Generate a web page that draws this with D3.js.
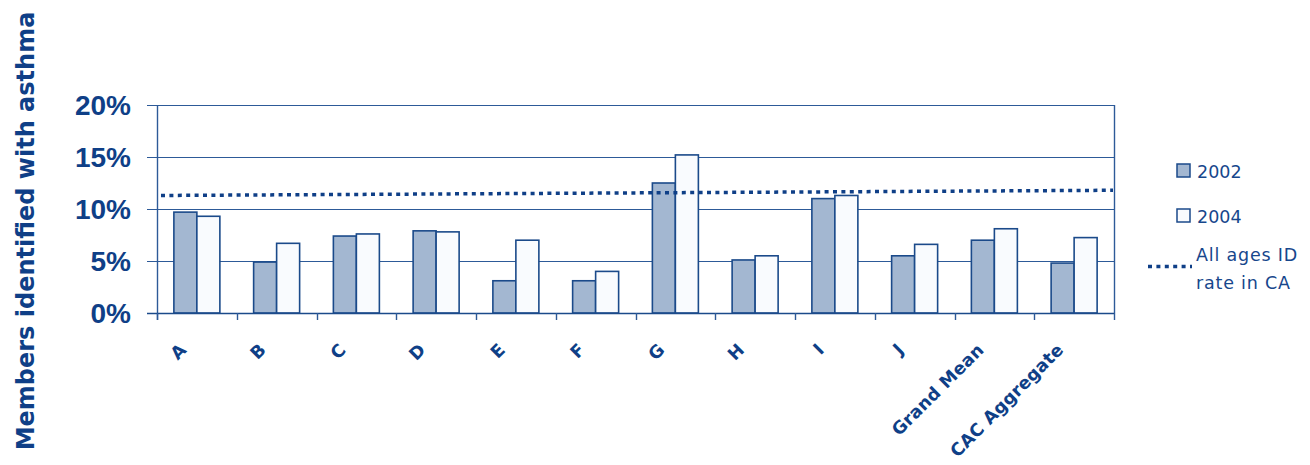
<!DOCTYPE html>
<html>
<head>
<meta charset="utf-8">
<script src="https://cdn.jsdelivr.net/npm/d3@7"></script>
<style>
  html, body { margin: 0; padding: 0; background: #ffffff; }
  svg { display: block; }
</style>
</head>
<body>
<svg id="chart" width="1310" height="465"></svg>
<script>
// ---- Data ----
const categories = ["A", "B", "C", "D", "E", "F", "G", "H", "I", "J", "Grand Mean", "CAC Aggregate"];
const values2002 = [9.7, 4.9, 7.4, 7.9, 3.1, 3.1, 12.5, 5.1, 11.0, 5.5, 7.0, 4.8];
const values2004 = [9.3, 6.7, 7.6, 7.8, 7.0, 4.0, 15.2, 5.5, 11.3, 6.6, 8.1, 7.25];
const caRateStart = 11.3;   // All ages ID rate in CA, left end of dotted line
const caRateEnd = 11.8;     // right end
const yTicks = [0, 5, 10, 15, 20];
const seriesNames = ["2002", "2004"];
const lineLegendLines = ["All ages ID", "rate in CA"];
const yTitle = "Members identified with asthma";

// ---- Styles ----
const navy = "#0F3F87";
const gridColor = "#2D5A98";
const barStroke = "#1B4A8A";
const fill2002 = "#A3B7D1";
const fill2004 = "#F9FBFE";

const svg = d3.select("#chart");
const pLeft = 157, pRight = 1114, pTop = 105, pBottom = 313;

const y = d3.scaleLinear().domain([0, 20]).range([pBottom, pTop]);
const x = d3.scaleBand().domain(categories).range([pLeft, pRight]).paddingInner(0).paddingOuter(0);
const barW = 23;
const xLine = d3.scaleLinear().domain([0, 1]).range([pLeft + 4, pRight - 1]);

// gridlines (extend left as tick marks)
svg.append("g").selectAll("line").data(yTicks).join("line")
  .attr("x1", pLeft - 10).attr("x2", pRight)
  .attr("y1", d => Math.round(y(d)) + 0.5).attr("y2", d => Math.round(y(d)) + 0.5)
  .attr("stroke", gridColor).attr("stroke-width", 1.2);

// y tick labels
svg.append("g").selectAll("text").data(yTicks).join("text")
  .attr("x", 131).attr("y", d => y(d)).attr("dy", "0.36em")
  .attr("text-anchor", "end")
  .attr("font-family", "'Liberation Sans', Arial, sans-serif")
  .attr("font-weight", "bold").attr("font-size", 28)
  .attr("fill", navy)
  .text(d => d + "%");

// bars
const groups = svg.append("g").selectAll("g").data(categories).join("g")
  .attr("transform", d => `translate(${x(d) + (x.bandwidth() - 2 * barW) / 2},0)`);
groups.append("rect")
  .attr("x", 0).attr("width", barW)
  .attr("y", (d, i) => y(values2002[i])).attr("height", (d, i) => y(0) - y(values2002[i]))
  .attr("fill", fill2002).attr("stroke", barStroke).attr("stroke-width", 1.6);
groups.append("rect")
  .attr("x", barW).attr("width", barW)
  .attr("y", (d, i) => y(values2004[i])).attr("height", (d, i) => y(0) - y(values2004[i]))
  .attr("fill", fill2004).attr("stroke", barStroke).attr("stroke-width", 1.6);

// axes frame: left axis, right border
svg.append("line").attr("x1", pLeft + 0.5).attr("x2", pLeft + 0.5).attr("y1", pTop).attr("y2", pBottom + 7)
  .attr("stroke", gridColor).attr("stroke-width", 1.4);
svg.append("line").attr("x1", pRight + 0.5).attr("x2", pRight + 0.5).attr("y1", pTop).attr("y2", pBottom + 7)
  .attr("stroke", gridColor).attr("stroke-width", 1.4);
svg.append("line").attr("x1", pLeft - 10).attr("x2", pRight).attr("y1", Math.round(y(0)) + 0.5).attr("y2", Math.round(y(0)) + 0.5)
  .attr("stroke", barStroke).attr("stroke-width", 1.6);

// x ticks at category boundaries
svg.append("g").selectAll("line").data(categories).join("line")
  .attr("x1", d => Math.round(x(d)) + 0.5).attr("x2", d => Math.round(x(d)) + 0.5)
  .attr("y1", pBottom).attr("y2", pBottom + 7)
  .attr("stroke", gridColor).attr("stroke-width", 1.4);

// x labels rotated
svg.append("g").selectAll("text").data(categories).join("text")
  .attr("transform", d => `translate(${x(d) + x.bandwidth() / 2 - 9.5},351) rotate(-45)`)
  .attr("text-anchor", "end")
  .attr("font-family", "'DejaVu Sans', Verdana, sans-serif")
  .attr("font-weight", "bold").attr("font-size", 17.5)
  .attr("letter-spacing", 0.2)
  .attr("fill", navy)
  .text(d => d);

// dotted CA line
svg.append("line")
  .attr("x1", xLine(0)).attr("x2", xLine(1))
  .attr("y1", y(caRateStart)).attr("y2", y(caRateEnd))
  .attr("stroke", navy).attr("stroke-width", 3.5)
  .attr("stroke-dasharray", "4,4.4");

// y title
svg.append("text")
  .attr("transform", "translate(34,231) rotate(-90)")
  .attr("text-anchor", "middle")
  .attr("font-family", "'DejaVu Sans', Verdana, sans-serif")
  .attr("font-weight", "bold").attr("font-size", 24)
  .attr("fill", navy)
  .text(yTitle);

// legend
const legFont = "'DejaVu Sans', Verdana, sans-serif";
const legColor = "#17478C";
const legY = [164, 209];
const legFills = [fill2002, fill2004];
seriesNames.forEach((name, i) => {
  svg.append("rect").attr("x", 1177).attr("y", legY[i]).attr("width", 13).attr("height", 13)
    .attr("fill", legFills[i]).attr("stroke", barStroke).attr("stroke-width", 1.5);
  svg.append("text").attr("x", 1197).attr("y", legY[i] + 13.5)
    .attr("font-family", legFont).attr("font-size", 17.5).attr("fill", legColor)
    .text(name);
});
svg.append("line").attr("x1", 1148).attr("x2", 1192).attr("y1", 266.5).attr("y2", 266.5)
  .attr("stroke", navy).attr("stroke-width", 3.5).attr("stroke-dasharray", "4,4.4");
lineLegendLines.forEach((t, i) => {
  svg.append("text").attr("x", 1196).attr("y", 261 + i * 27.5)
    .attr("font-family", legFont).attr("font-size", 17.5).attr("letter-spacing", 0.8).attr("fill", legColor)
    .text(t);
});
</script>
</body>
</html>
